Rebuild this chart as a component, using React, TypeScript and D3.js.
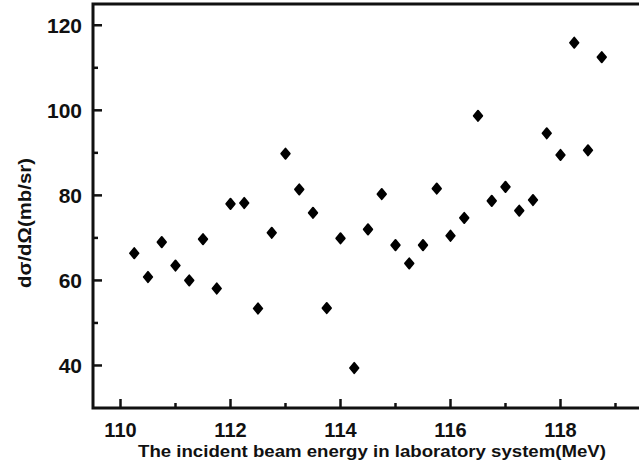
import React, { useEffect, useRef } from 'react';
import * as d3 from 'd3';

// incident beam energy (MeV)
const energies = [
  110.25, 110.5, 110.75, 111, 111.25, 111.5, 111.75, 112, 112.25, 112.5, 112.75,
  113, 113.25, 113.5, 113.75, 114, 114.25, 114.5, 114.75, 115, 115.25, 115.5,
  115.75, 116, 116.25, 116.5, 116.75, 117, 117.25, 117.5, 117.75, 118, 118.25,
  118.5, 118.75,
];
// dσ/dΩ (mb/sr)
const crossSections = [
  66.4, 60.8, 69.0, 63.5, 60.0, 69.7, 58.1, 78.0, 78.2, 53.4, 71.2,
  89.8, 81.4, 75.9, 53.5, 69.9, 39.4, 72.0, 80.3, 68.3, 64.0, 68.3,
  81.6, 70.5, 74.7, 98.7, 78.7, 82.0, 76.4, 78.9, 94.6, 89.5, 115.9,
  90.6, 112.5,
];
const xTicks = [110, 112, 114, 116, 118];
const xMinorTicks = [111, 113, 115, 117, 119];
const yTicks = [40, 60, 80, 100, 120];
const yMinorTicks = [50, 70, 90, 110];

const W = 639;
const H = 466;

const App: React.FC = () => {
  const ref = useRef<SVGSVGElement>(null);

  useEffect(() => {
    if (!ref.current) return;
    const svg = d3.select(ref.current);
    svg.selectAll('*').remove();

    const left = 93;
    const top = 4;
    const bottom = 408;

    const x = d3.scaleLinear().domain([109.5, 119.5]).range([left, left + 550]);
    const y = d3.scaleLinear().domain([30, 125]).range([bottom, top]);

    const font = '"Liberation Sans", Arial, sans-serif';
    const g = svg.append('g');

    // frame (right side is off the canvas)
    g.append('path')
      .attr('d', `M${x(119.5)},${top}H${left}V${bottom}H${x(119.5)}`)
      .attr('fill', 'none')
      .attr('stroke', '#111')
      .attr('stroke-width', 3);

    // y ticks
    g.selectAll('line.ymaj').data(yTicks).enter().append('line')
      .attr('x1', left).attr('x2', left + 9)
      .attr('y1', d => y(d)).attr('y2', d => y(d))
      .attr('stroke', '#111').attr('stroke-width', 2.5);
    g.selectAll('line.ymin').data(yMinorTicks).enter().append('line')
      .attr('x1', left).attr('x2', left + 5)
      .attr('y1', d => y(d)).attr('y2', d => y(d))
      .attr('stroke', '#111').attr('stroke-width', 2.5);
    g.selectAll('text.ylab').data(yTicks).enter().append('text')
      .attr('x', left - 11).attr('y', d => y(d))
      .attr('dy', '0.36em')
      .attr('text-anchor', 'end')
      .attr('font-family', font).attr('font-weight', 'bold')
      .attr('font-size', 21).attr('fill', '#111')
      .text(d => d);

    // x ticks
    g.selectAll('line.xmaj').data(xTicks).enter().append('line')
      .attr('x1', d => x(d)).attr('x2', d => x(d))
      .attr('y1', bottom).attr('y2', bottom - 9)
      .attr('stroke', '#111').attr('stroke-width', 2.5);
    g.selectAll('line.xmin').data(xMinorTicks).enter().append('line')
      .attr('x1', d => x(d)).attr('x2', d => x(d))
      .attr('y1', bottom).attr('y2', bottom - 5)
      .attr('stroke', '#111').attr('stroke-width', 2.5);
    g.selectAll('text.xlab').data(xTicks).enter().append('text')
      .attr('x', d => x(d)).attr('y', 437)
      .attr('text-anchor', 'middle')
      .attr('font-family', font).attr('font-weight', 'bold')
      .attr('font-size', 20).attr('fill', '#111')
      .text(d => d);

    // axis titles
    g.append('text')
      .attr('x', 372).attr('y', 457)
      .attr('text-anchor', 'middle')
      .attr('font-family', font).attr('font-weight', 'bold')
      .attr('font-size', 17).attr('fill', '#111')
      .attr('textLength', 468).attr('lengthAdjust', 'spacingAndGlyphs')
      .text('The incident beam energy in laboratory system(MeV)');
    g.append('text')
      .attr('transform', 'translate(31,223) rotate(-90)')
      .attr('text-anchor', 'middle')
      .attr('font-family', font).attr('font-weight', 'bold')
      .attr('font-size', 18).attr('fill', '#111')
      .attr('textLength', 130).attr('lengthAdjust', 'spacingAndGlyphs')
      .text('dσ/dΩ(mb/sr)');

    // diamond markers
    const pts = energies.map((e, i) => [e, crossSections[i]] as [number, number]);
    g.selectAll('path.pt').data(pts).enter().append('path')
      .attr('d', 'M0,-5.2 L4.3,0 L0,5.2 L-4.3,0 Z')
      .attr('transform', d => `translate(${x(d[0])},${y(d[1])})`)
      .attr('fill', '#000')
      .attr('stroke', '#000')
      .attr('stroke-width', 1.8)
      .attr('stroke-linejoin', 'round');
  }, []);

  return (
    <svg ref={ref} width={W} height={H} style={{ position: 'absolute', left: 0, top: 0, background: '#fff' }} />
  );
};

export default App;
